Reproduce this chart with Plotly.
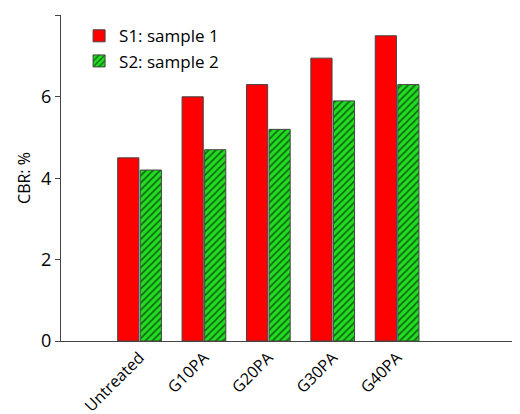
import plotly.graph_objects as go

categories = ['Untreated', 'G10PA', 'G20PA', 'G30PA', 'G40PA']
sample1 = [4.5, 6.0, 6.3, 6.95, 7.5]
sample2 = [4.2, 4.7, 5.2, 5.9, 6.3]

fig = go.Figure()
fig.add_trace(go.Bar(x=categories, y=sample1, name='S1: sample 1',
                     marker=dict(color='#ff0000', line=dict(color='#444', width=1))))
fig.add_trace(go.Bar(x=categories, y=sample2, name='S2: sample 2',
                     marker=dict(color='#00dd00', line=dict(color='#444', width=1),
                                 pattern=dict(shape='/', fgcolor='black', bgcolor='#22dd22',
                                              size=5, solidity=0.35))))

fig.update_layout(
    width=520, height=414,
    margin=dict(l=53, r=15, t=7, b=81, autoexpand=False),
    plot_bgcolor='white', paper_bgcolor='white',
    font=dict(family='Open Sans, DejaVu Sans', size=16, color='black'),
    barmode='group', bargap=0.3, bargroupgap=0.06,
    legend=dict(x=0.04, y=0.99, xanchor='left', yanchor='top',
                font=dict(size=17), bgcolor='rgba(0,0,0,0)', tracegroupgap=4),
    showlegend=True,
)
fig.update_xaxes(range=[-1.22, 5.8], showline=True, linecolor='#444', ticks='',
                 tickangle=-45, tickfont=dict(size=16), automargin=False)
fig.update_yaxes(range=[0, 8.01], tickvals=[0, 2, 4, 6, 8], showline=True, linecolor='#444',
                 ticks='outside', ticklen=5, tickcolor='#444', showgrid=False, zeroline=False,
                 title=dict(text='CBR: %', font=dict(size=16), standoff=6),
                 tickfont=dict(size=18), automargin=False)

fig.write_html("out.html")
